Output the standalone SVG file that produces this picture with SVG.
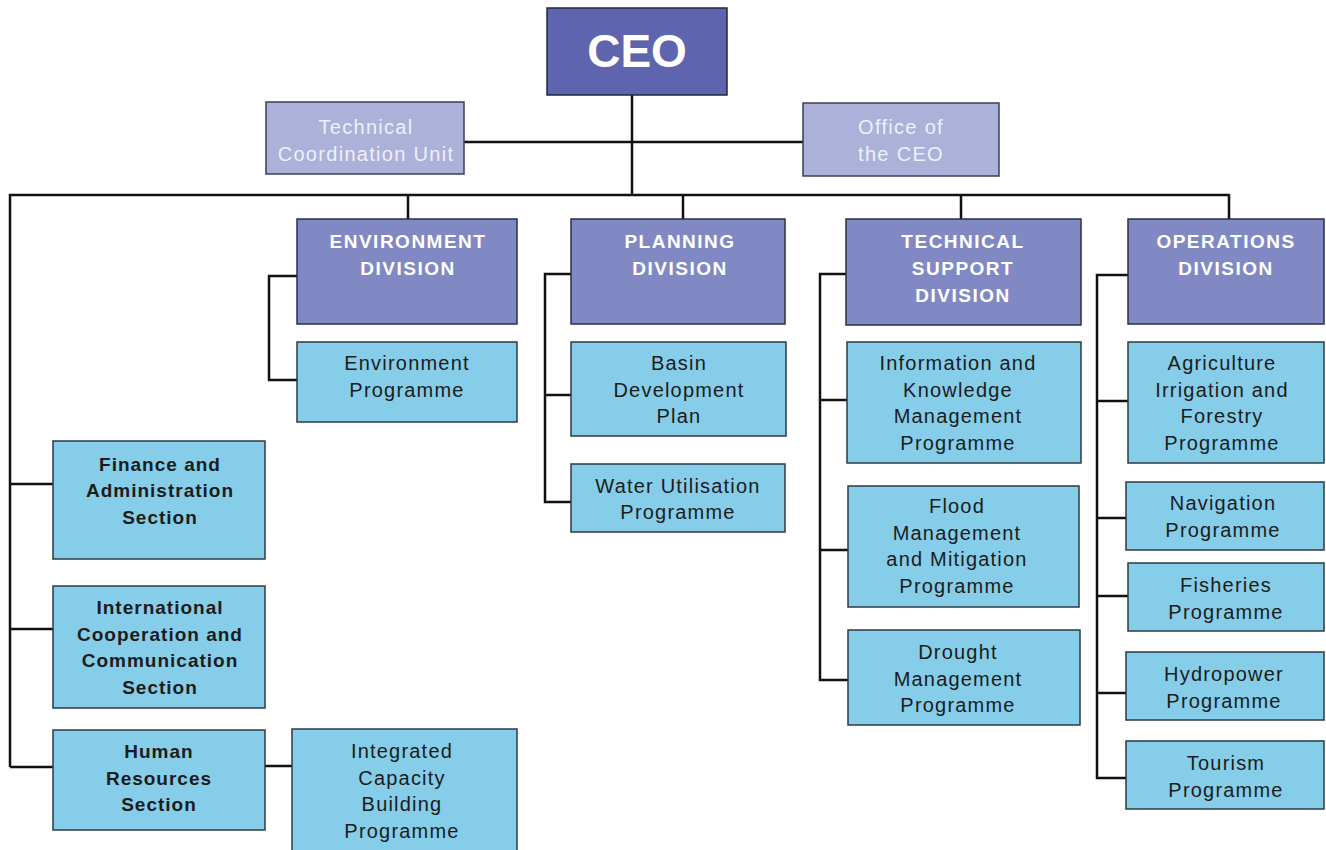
<svg xmlns="http://www.w3.org/2000/svg" width="1326" height="850" viewBox="0 0 1326 850">
<style>
.ceo{fill:#5e65ae;stroke:#23283a;stroke-width:1.5}
.side{fill:#abb1d9;stroke:#3a3f55;stroke-width:1.5}
.div{fill:#8189c5;stroke:#2a2f45;stroke-width:1.5}
.prog{fill:#85cde8;stroke:#2b3a45;stroke-width:1.5}
.t{font-family:"Liberation Sans",Arial,sans-serif;font-size:20px;letter-spacing:1.2px;fill:#1c1c1c;text-anchor:middle}
.b{font-family:"Liberation Sans",Arial,sans-serif;font-size:19px;font-weight:bold;letter-spacing:1px;fill:#1c1c1c;text-anchor:middle}
.h{font-family:"Liberation Sans",Arial,sans-serif;font-size:19px;font-weight:bold;letter-spacing:1.5px;fill:#ffffff;text-anchor:middle}
.s{font-family:"Liberation Sans",Arial,sans-serif;font-size:20px;letter-spacing:1.3px;fill:#eef0f8;text-anchor:middle}
.c{font-family:"Liberation Sans",Arial,sans-serif;font-size:46px;font-weight:bold;fill:#ffffff;text-anchor:middle}
.ln{fill:none;stroke:#111111;stroke-width:2.5}
</style>
<rect width="1326" height="850" fill="#ffffff"/>
<g id="connectors" class="ln">
<path d="M632,95 V195"/>
<path d="M464,142 H803"/>
<path d="M10,767 V195 H1229 V219"/>
<path d="M408,195 V219"/>
<path d="M683,195 V219"/>
<path d="M961,195 V219"/>
<path d="M10,484 H53"/>
<path d="M10,629 H53"/>
<path d="M10,767 H53"/>
<path d="M265,766 H292"/>
<path d="M297,276 H269 V380 H297"/>
<path d="M571,274 H545 V502 H571"/>
<path d="M545,395 H571"/>
<path d="M846,274 H820 V680 H848"/>
<path d="M820,400 H847"/>
<path d="M820,550 H848"/>
<path d="M1128,275 H1097 V778 H1126"/>
<path d="M1097,401 H1128"/>
<path d="M1097,518 H1126"/>
<path d="M1097,596 H1128"/>
<path d="M1097,693 H1126"/>
</g>
<g id="ceo"><rect class="ceo" x="547" y="8" width="180" height="87"/><text class="c" x="637" y="67">CEO</text></g>
<g id="tcu"><rect class="side" x="266" y="102" width="198" height="72"/><text class="s" x="366" y="134">Technical</text><text class="s" x="366" y="161">Coordination Unit</text></g>
<g id="office"><rect class="side" x="803" y="103" width="196" height="73"/><text class="s" x="901" y="134">Office of</text><text class="s" x="901" y="161">the CEO</text></g>
<g id="env-div"><rect class="div" x="297" y="219" width="220" height="105"/><text class="h" x="408" y="248">ENVIRONMENT</text><text class="h" x="408" y="275">DIVISION</text></g>
<g id="env-prog"><rect class="prog" x="297" y="342" width="220" height="80"/><text class="t" x="407" y="370">Environment</text><text class="t" x="407" y="397">Programme</text></g>
<g id="plan-div"><rect class="div" x="571" y="219" width="214" height="105"/><text class="h" x="680" y="248">PLANNING</text><text class="h" x="680" y="275">DIVISION</text></g>
<g id="basin"><rect class="prog" x="571" y="342" width="215" height="94"/><text class="t" x="679" y="370">Basin</text><text class="t" x="679" y="397">Development</text><text class="t" x="679" y="423">Plan</text></g>
<g id="water"><rect class="prog" x="571" y="464" width="214" height="68"/><text class="t" x="678" y="493">Water Utilisation</text><text class="t" x="678" y="519">Programme</text></g>
<g id="tech-div"><rect class="div" x="846" y="219" width="235" height="106"/><text class="h" x="963" y="248">TECHNICAL</text><text class="h" x="963" y="275">SUPPORT</text><text class="h" x="963" y="302">DIVISION</text></g>
<g id="info"><rect class="prog" x="847" y="342" width="234" height="121"/><text class="t" x="958" y="370">Information and</text><text class="t" x="958" y="397">Knowledge</text><text class="t" x="958" y="423">Management</text><text class="t" x="958" y="450">Programme</text></g>
<g id="flood"><rect class="prog" x="848" y="486" width="231" height="121"/><text class="t" x="957" y="513">Flood</text><text class="t" x="957" y="540">Management</text><text class="t" x="957" y="566">and Mitigation</text><text class="t" x="957" y="593">Programme</text></g>
<g id="drought"><rect class="prog" x="848" y="630" width="232" height="95"/><text class="t" x="958" y="659">Drought</text><text class="t" x="958" y="686">Management</text><text class="t" x="958" y="712">Programme</text></g>
<g id="ops-div"><rect class="div" x="1128" y="219" width="196" height="105"/><text class="h" x="1226" y="248">OPERATIONS</text><text class="h" x="1226" y="275">DIVISION</text></g>
<g id="agri"><rect class="prog" x="1128" y="342" width="196" height="121"/><text class="t" x="1222" y="370">Agriculture</text><text class="t" x="1222" y="397">Irrigation and</text><text class="t" x="1222" y="423">Forestry</text><text class="t" x="1222" y="450">Programme</text></g>
<g id="nav"><rect class="prog" x="1126" y="482" width="198" height="68"/><text class="t" x="1223" y="510">Navigation</text><text class="t" x="1223" y="537">Programme</text></g>
<g id="fish"><rect class="prog" x="1128" y="563" width="196" height="68"/><text class="t" x="1226" y="592">Fisheries</text><text class="t" x="1226" y="619">Programme</text></g>
<g id="hydro"><rect class="prog" x="1126" y="652" width="198" height="68"/><text class="t" x="1224" y="681">Hydropower</text><text class="t" x="1224" y="708">Programme</text></g>
<g id="tourism"><rect class="prog" x="1126" y="741" width="198" height="68"/><text class="t" x="1226" y="770">Tourism</text><text class="t" x="1226" y="797">Programme</text></g>
<g id="finance"><rect class="prog" x="53" y="441" width="212" height="118"/><text class="b" x="160" y="471">Finance and</text><text class="b" x="160" y="497">Administration</text><text class="b" x="160" y="524">Section</text></g>
<g id="intl"><rect class="prog" x="53" y="586" width="212" height="122"/><text class="b" x="160" y="614">International</text><text class="b" x="160" y="641">Cooperation and</text><text class="b" x="160" y="667">Communication</text><text class="b" x="160" y="694">Section</text></g>
<g id="hr"><rect class="prog" x="53" y="730" width="212" height="100"/><text class="b" x="159" y="758">Human</text><text class="b" x="159" y="785">Resources</text><text class="b" x="159" y="811">Section</text></g>
<g id="icb"><rect class="prog" x="292" y="729" width="225" height="125"/><text class="t" x="402" y="758">Integrated</text><text class="t" x="402" y="785">Capacity</text><text class="t" x="402" y="811">Building</text><text class="t" x="402" y="838">Programme</text></g>
</svg>
